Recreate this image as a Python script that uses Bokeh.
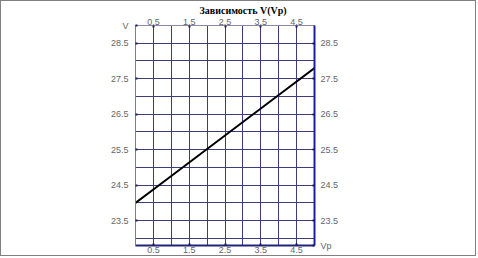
from bokeh.plotting import figure
from bokeh.models import FixedTicker, LinearAxis, Range1d
from bokeh.embed import file_html
from bokeh.resources import INLINE

# Data
vp = [0.0, 1.0, 2.0, 3.0, 4.0, 5.0]
v = [24.0, 24.76, 25.52, 26.28, 27.04, 27.8]

x_tick_vals = [0.5, 1.5, 2.5, 3.5, 4.5]
y_tick_vals = [23.5, 24.5, 25.5, 26.5, 27.5, 28.5]
x_grid_vals = [0.5, 1.0, 1.5, 2.0, 2.5, 3.0, 3.5, 4.0, 4.5]
y_grid_vals = [23.0, 23.5, 24.0, 24.5, 25.0, 25.5, 26.0, 26.5, 27.0, 27.5, 28.0, 28.5]

title_text = "Зависимость V(Vp)"
x_title = "Vp"
y_title = "V"

X_MIN, X_MAX = 0.0, 5.0
Y_MIN, Y_MAX = 22.8, 29.0

GRID = "#3c3c7c"
TICKC = "#666666"

p = figure(width=476, height=256, output_backend="svg", toolbar_location=None,
           x_range=Range1d(X_MIN, X_MAX), y_range=Range1d(Y_MIN, Y_MAX),
           x_axis_location=None, y_axis_location=None,
           min_border_left=134, min_border_right=163,
           min_border_top=24, min_border_bottom=12)
p.styles = {"border": "1px solid #808080", "background-color": "white"}
p.background_fill_color = "white"
p.border_fill_color = "white"
p.outline_line_color = "#6a6a9a"
p.outline_line_width = 1

p.title.text = title_text
p.title.align = "left"
p.title.offset = 64
p.title.standoff = 0
p.title.text_font = "Liberation Serif"
p.title.text_font_style = "bold"
p.title.text_font_size = "10px"
p.title.text_color = "black"

p.xgrid.ticker = FixedTicker(ticks=x_grid_vals)
p.ygrid.ticker = FixedTicker(ticks=y_grid_vals)
for g in (p.xgrid, p.ygrid):
    g.grid_line_color = GRID
    g.grid_line_width = 1
    g.grid_line_alpha = 1.0


def style_axis(ax, standoff, line_color, line_width):
    ax.major_label_text_font = "Liberation Sans"
    ax.major_label_text_font_size = "9px"
    ax.major_label_text_color = TICKC
    ax.major_label_standoff = standoff
    ax.major_tick_in = 2
    ax.major_tick_out = 0
    ax.minor_tick_in = 0
    ax.minor_tick_out = 0
    ax.major_tick_line_color = "#1a1a66"
    ax.major_tick_line_width = 2
    ax.axis_line_color = line_color
    ax.axis_line_width = line_width


bottom = LinearAxis(ticker=FixedTicker(ticks=x_tick_vals))
style_axis(bottom, 1, "#22227a", 2)
p.add_layout(bottom, "below")

top = LinearAxis(ticker=FixedTicker(ticks=x_tick_vals))
style_axis(top, 1, "#8a8aa8", 1)
p.add_layout(top, "above")

# left axis: value ticks plus the axis name "V" at the top end of the range
left = LinearAxis(ticker=FixedTicker(ticks=y_tick_vals + [Y_MAX]),
                  major_label_overrides={Y_MAX: y_title})
style_axis(left, 7, "#7a7a9a", 1)
p.add_layout(left, "left")

# right axis: value ticks plus the axis name "Vp" at the bottom end of the range
right = LinearAxis(ticker=FixedTicker(ticks=[Y_MIN] + y_tick_vals),
                   major_label_overrides={Y_MIN: x_title})
style_axis(right, 6, "#1c1ca0", 2)
p.add_layout(right, "right")

p.line(vp, v, line_color="black", line_width=2)

open("out.html", "w").write(file_html(p, INLINE))
